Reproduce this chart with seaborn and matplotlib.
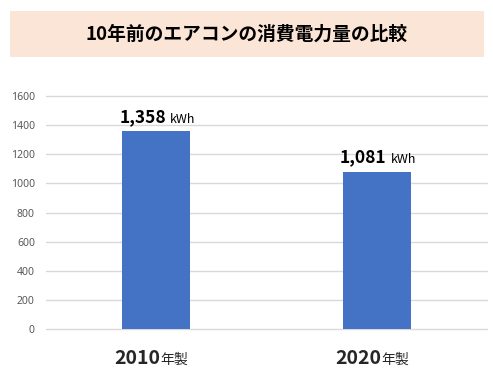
import pandas as pd
import seaborn as sns
import matplotlib.pyplot as plt
from matplotlib.patches import Rectangle

# data
years = ["2010", "2020"]
year_suffix = "年製"
usage_kwh = [1358, 1081]
unit = "kWh"
title = "10年前のエアコンの消費電力量の比較"
y_ticks = [0, 200, 400, 600, 800, 1000, 1200, 1400, 1600]

sns.set_style("white")
plt.rcParams["font.family"] = ["Noto Sans CJK JP", "DejaVu Sans"]

df = pd.DataFrame({"year": years, "kwh": usage_kwh})

fig = plt.figure(figsize=(4.93, 3.81), dpi=100)
ax = fig.add_axes([46 / 493, 1 - 329.3 / 381, 441 / 493, 233.3 / 381])

sns.barplot(data=df, x="year", y="kwh", color="#4472C4", width=0.31,
            saturation=1, linewidth=0, ax=ax, zorder=3)

ax.set_ylim(0, 1600)
ax.set_xlim(-0.5, 1.5)
ax.set_yticks(y_ticks)
ax.set_yticklabels([str(t) for t in y_ticks], color="#595959", fontsize=7.5,
                   family=["Noto Sans", "DejaVu Sans"])
ax.tick_params(axis="y", length=0, pad=8)
ax.grid(axis="y", color="#D9D9D9", linewidth=1, zorder=0)
for line in ax.get_ygridlines():
    line.set_clip_on(False)
for s in ax.spines.values():
    s.set_visible(False)
ax.set_xlabel("")
ax.set_ylabel("")
ax.set_xticks([0, 1])
ax.set_xticklabels([])
ax.tick_params(axis="x", length=0)

# value labels
for i, v in enumerate(usage_kwh):
    ax.annotate(f"{v:,}", xy=(i, v), xytext=(7, 4), textcoords="offset points",
                ha="right", va="bottom", fontsize=12.5, fontweight="bold",
                color="black")
    ax.annotate(unit, xy=(i, v), xytext=(10, 4), textcoords="offset points",
                ha="left", va="bottom", fontsize=9, color="black")

# category labels
for i, y in enumerate(years):
    ax.annotate(y, xy=(i, 0), xycoords=("data", "axes fraction"),
                xytext=(3, -14), textcoords="offset points",
                ha="right", va="top", fontsize=14, fontweight="bold")
    ax.annotate(year_suffix, xy=(i, 0), xycoords=("data", "axes fraction"),
                xytext=(3, -17), textcoords="offset points",
                ha="left", va="top", fontsize=10)

# title box
fig.patches.append(Rectangle((10 / 493, 1 - 57 / 381), 474 / 493, 46 / 381,
                             transform=fig.transFigure, facecolor="#FBE5D6",
                             edgecolor="none", zorder=0))
fig.text(247 / 493, 1 - 34 / 381, title, ha="center", va="center",
         fontsize=13.5, fontweight="bold", color="black")

fig.savefig("out.png", dpi=100)
